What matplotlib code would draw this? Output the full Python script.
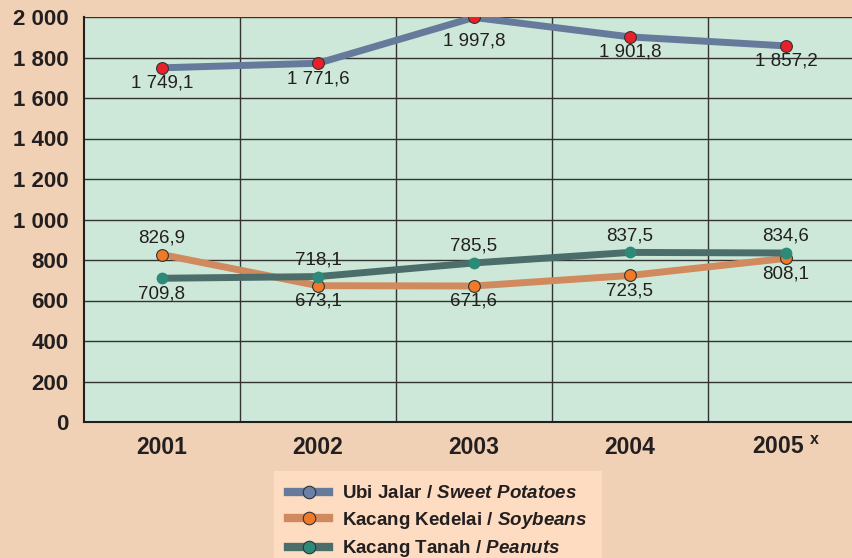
import numpy as np
import matplotlib.pyplot as plt
from matplotlib.lines import Line2D

plt.rcParams['font.family'] = ['Liberation Sans', 'DejaVu Sans']
plt.rcParams['mathtext.fontset'] = 'custom'
plt.rcParams['mathtext.it'] = 'Liberation Sans:italic:bold'
plt.rcParams['mathtext.rm'] = 'Liberation Sans:bold'

years = ['2001', '2002', '2003', '2004', '2005']
ubi_jalar = [1749.1, 1771.6, 1997.8, 1901.8, 1857.2]
kedelai = [826.9, 673.1, 671.6, 723.5, 808.1]
tanah = [709.8, 718.1, 785.5, 837.5, 834.6]

# label offset in points: positive above, negative below
ubi_off = [-5, -5, -11, -5, -5]
kedelai_off = [6, -5, -5, -5, -5]
tanah_off = [-5, 6, 6, 6, 6]

bg = '#f0d1b5'
plot_bg = '#cde8d8'
txt = '#231f20'

fig = plt.figure(figsize=(8.53, 5.58), dpi=100, facecolor=bg)
ax = fig.add_axes([84/853, 136/558, 780/853, 405/558])
ax.set_facecolor(plot_bg)

x = np.arange(len(years))

def fmt(v):
    s = f'{v:,.1f}'
    return s.replace(',', ' ').replace('.', ',')

series = [
    (ubi_jalar, ubi_off, '#667a9b', '#e8202a', 0.8),
    (kedelai, kedelai_off, '#d08a5e', '#f07a28', 0.8),
    (tanah, tanah_off, '#4b6e6a', '#2e8a78', 0),
]
for z, (vals, offs, lc, mc, mew) in zip([3, 4, 5], series):
    ax.plot(x, vals, color=lc, lw=5, zorder=z, solid_capstyle='butt')
    ax.plot(x, vals, 'o', color=mc, markersize=8.5, markeredgecolor='#333333',
            markeredgewidth=mew, zorder=z + 0.5)
    for xi, v, o in zip(x, vals, offs):
        ax.annotate(fmt(v), (xi, v), xytext=(0, o), textcoords='offset points',
                    ha='center', va='bottom' if o > 0 else 'top',
                    fontsize=13.5, color=txt, zorder=10)

ax.set_xlim(-0.5, 4.5)
ax.set_ylim(0, 2000)
ax.set_yticks(np.arange(0, 2001, 200))
ax.set_yticklabels([f'{v:,}'.replace(',', ' ') for v in range(0, 2001, 200)],
                   fontsize=16, fontweight='bold', color=txt)
ax.set_xticks(x)
xlabels = years[:-1] + [years[-1] + r' $^{\mathrm{x}}$']
ax.set_xticklabels(xlabels, fontsize=16.5, fontweight='bold', color=txt)
ax.tick_params(length=0)
ax.tick_params(axis='x', pad=10)
ax.tick_params(axis='y', pad=11)

ax.set_xticks(x[:-1] + 0.5, minor=True)
ax.tick_params(which='minor', length=0)
ax.grid(axis='y', which='major', color='#333333', lw=1, zorder=1)
ax.grid(axis='x', which='minor', color='#333333', lw=1, zorder=1)
ax.grid(axis='x', which='major', visible=False)
for sp in ['top', 'right']:
    ax.spines[sp].set_visible(False)
for sp in ['left', 'bottom']:
    ax.spines[sp].set_color(txt)
    ax.spines[sp].set_linewidth(1.5)

handles = [
    Line2D([], [], color='#667a9b', lw=6, marker='o', markersize=9,
           markerfacecolor='#6a80a8', markeredgecolor='#333333', markeredgewidth=0.8),
    Line2D([], [], color='#d08a5e', lw=6, marker='o', markersize=9,
           markerfacecolor='#f07a28', markeredgecolor='#333333', markeredgewidth=0.8),
    Line2D([], [], color='#4b6e6a', lw=6, marker='o', markersize=9,
           markerfacecolor='#2e8a78', markeredgecolor='#333333', markeredgewidth=0.8),
]
labels = [r'Ubi Jalar / $\mathit{Sweet\ Potatoes}$',
          r'Kacang Kedelai / $\mathit{Soybeans}$',
          r'Kacang Tanah / $\mathit{Peanuts}$']
leg = fig.legend(handles, labels, loc='upper left', bbox_to_anchor=(274/853, 1 - 471/558),
                 frameon=True, fancybox=False, facecolor='#fddcc2', edgecolor='none',
                 framealpha=1, prop={'size': 13.5, 'weight': 'bold'},
                 handlelength=2.2, handletextpad=0.7, labelspacing=0.4,
                 borderpad=0.75, borderaxespad=0)
for t in leg.get_texts():
    t.set_color(txt)

fig.savefig('out.png', dpi=100, facecolor=bg)
